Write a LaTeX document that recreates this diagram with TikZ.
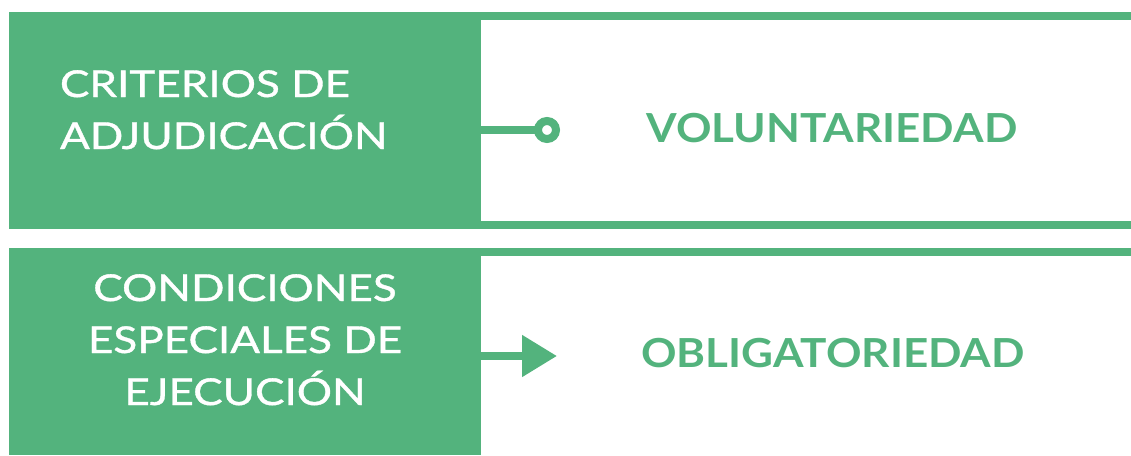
\documentclass[tikz,border=0pt]{standalone}
\usepackage{fontspec}
\setmainfont{Lato}
\newfontfamily\letraancha{Lato}[FakeStretch=1.19, FakeBold=1]
\newfontfamily\letrabold{Lato}[FakeStretch=1.1]
\usetikzlibrary{arrows.meta, positioning, calc}
\definecolor{verde}{RGB}{83,179,125}

\begin{document}
\begin{tikzpicture}
                [x=1pt, y=-1pt, every node/.style={inner sep=0pt, outer sep=0pt},
                 caja/.style={fill=verde, minimum width=472pt},
                 blanco/.style={text=white, font=\letraancha\fontsize{37}{52}\selectfont},
                 verdetxt/.style={text=verde, font=\letrabold\bfseries\fontsize{40}{48}\selectfont},
                 raya/.style={draw=verde, line width=8pt}]
                \useasboundingbox (0, 0) rectangle (1131, 455);
                \node[caja, minimum height=217pt] (crit) at (245, 120.5) {};
                \node[caja, minimum height=207pt] (cond) at (245, 351.5) {};
                \node[blanco, align=left, anchor=base west] (critlbl) at (60, 149) {CRITERIOS DE\\ADJUDICACIÓN};
                \node[blanco, align=center, anchor=base] (condlbl) at (245, 405) {CONDICIONES\\ESPECIALES DE\\EJECUCIÓN};
                \node[verdetxt, anchor=base] (vol) at (832, 142) {VOLUNTARIEDAD};
                \node[verdetxt, anchor=base] (obl) at (833, 367) {OBLIGATORIEDAD};
                \node[circle, draw=verde, line width=8pt, minimum size=18pt] (anillo) at (547, 130) {};
                \coordinate (punta) at (557, 356);

                \draw[raya] ($(crit.north east)+(0, 4)$) -- +(650, 0);
                \draw[raya] ($(crit.south east)+(0, -4)$) -- +(650, 0);
                \draw[raya] ($(cond.north east)+(0, 4)$) -- +(650, 0);
                \draw[raya] (crit.east |- anillo) -- (anillo);
                \draw[raya, -{Triangle[length=35pt, width=40pt]}] (cond.east |- punta) -- (punta);
            \end{tikzpicture}
\end{document}
